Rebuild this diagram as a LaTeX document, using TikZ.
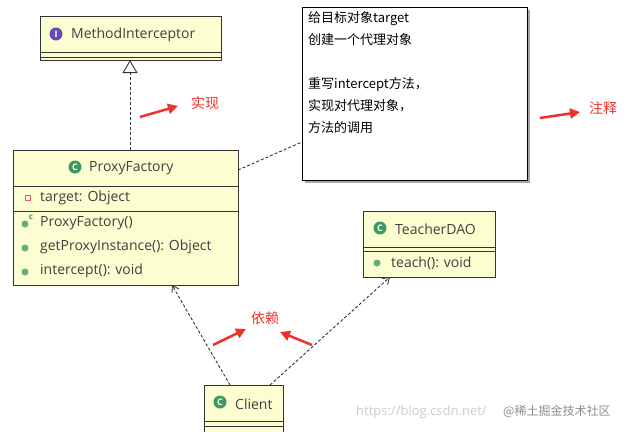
\documentclass[tikz,border=0pt]{standalone}
\usepackage{fontspec}
\setmainfont{Open Sans}
\newfontfamily\cjk{Noto Sans CJK SC}
\usetikzlibrary{arrows.meta}
\definecolor{umlfill}{HTML}{FDFDD2}
\definecolor{icong}{HTML}{3C9A5F}
\definecolor{iconp}{HTML}{6A4BAF}
\definecolor{redarr}{HTML}{F0302A}
\begin{document}
\begin{tikzpicture}[x=1pt,y=-1pt,
  box/.style={draw=black!80,fill=umlfill,line width=1pt},
  txt/.style={font=\fontsize{14}{16}\selectfont,text=black!75,anchor=west,inner sep=0},
  ico/.style={circle,fill=#1,text=white,font=\bfseries\fontsize{9}{9}\selectfont,inner sep=0,minimum size=13pt},
  dot/.style={circle,fill=icong!80,inner sep=0,minimum size=7pt},
  dashline/.style={densely dashed,line width=0.9pt,black!80},
  redtxt/.style={text=redarr,font=\cjk\fontsize{14}{16}\selectfont},
  redarrow/.style={redarr,line width=2.5pt,-{Triangle[length=10pt,width=10pt]}}]
\useasboundingbox (0,0) rectangle (636,431);
% MethodInterceptor
\draw[box] (40,16) rectangle (221,60);
\draw[black!80,line width=0.9pt] (40,52)--(221,52) (40,57)--(221,57);
\node[ico=iconp] (mii) at (56,34) {I};
\node[txt] (mit) at (71,35) {MethodInterceptor};
\coordinate (miB) at (130,60);
% ProxyFactory
\draw[box] (13,150) rectangle (238,285);
\draw[black!80,line width=0.9pt] (13,186)--(238,186) (13,211)--(238,211);
\node[ico=icong] at (75,167) {C};
\node[txt] at (89,168) {ProxyFactory};
\node[draw=redarr!80,fill=white,inner sep=0,minimum size=5pt] at (28,198) {};
\node[txt] at (40,198) {target: Object};
\node[dot] at (25,224) {};
\node[text=icong,font=\bfseries\fontsize{8}{8}\selectfont,inner sep=0] at (31,217) {c};
\node[txt] at (40,223) {ProxyFactory()};
\node[dot] at (25,248) {};
\node[txt] at (40,247) {getProxyInstance(): Object};
\node[dot] at (25,272) {};
\node[txt] at (40,271) {intercept(): void};
\coordinate (pfT) at (130,150);
\coordinate (pfR) at (238,170);
\coordinate (pfB) at (172,285);
% Note
\fill[black!35] (305,10) rectangle (530,183);
\draw[black,fill=white,line width=0.9pt] (302,7) rectangle (527,180);
\node[anchor=north west,inner sep=0,align=left,font=\cjk\fontsize{13}{22}\selectfont] (note) at (308,11)
 {给目标对象target\\创建一个代理对象\\[22pt]重写intercept方法，\\实现对代理对象，\\方法的调用};
\coordinate (noteL) at (302,142);
% TeacherDAO
\draw[box] (363,211) rectangle (495,277);
\draw[black!80,line width=0.9pt] (363,247)--(495,247) (363,251)--(495,251);
\node[ico=icong] at (380,228) {C};
\node[txt] at (395,229) {TeacherDAO};
\node[dot] at (377,263) {};
\node[txt] at (391,263) {teach(): void};
\coordinate (tdB) at (390,277);
% Client
\draw[box] (204,385) rectangle (283,433);
\draw[black!80,line width=0.9pt] (204,421)--(283,421) (204,426)--(283,426);
\node[ico=icong] at (220,402) {C};
\node[txt] at (235,404) {Client};
\coordinate (clA) at (230,385);
\coordinate (clB) at (270,385);
% connectors
\draw[dashline,-{Triangle[open,length=13pt,width=15pt,fill=white]}] (pfT) -- (miB);
\draw[dashline] (pfR) -- (noteL);
\draw[dashline,-{Straight Barb[length=6pt,width=8pt]}] (clA) -- (pfB);
\draw[dashline,-{Straight Barb[length=6pt,width=8pt]}] (clB) -- (tdB);
% red annotations
\draw[redarrow] (140,117) -- (178,106);
\node[redtxt] at (205,103) {实现};
\draw[redarrow] (540,118) -- (580,112);
\node[redtxt] at (603,108) {注释};
\node[redtxt] (yl) at (265,318) {依赖};
\draw[redarrow] (213,345) -- (246,329);
\draw[redarrow] (312,345) -- (280,332);
% watermark
\node[anchor=west,text=black!20,font=\fontsize{13}{14}\selectfont,inner sep=0] at (356,412) {https://blog.csdn.net/};
\node[anchor=west,text=black!45,font=\cjk\fontsize{12}{14}\selectfont,inner sep=0] at (503,411) {@稀土掘金技术社区};
\end{tikzpicture}
\end{document}
